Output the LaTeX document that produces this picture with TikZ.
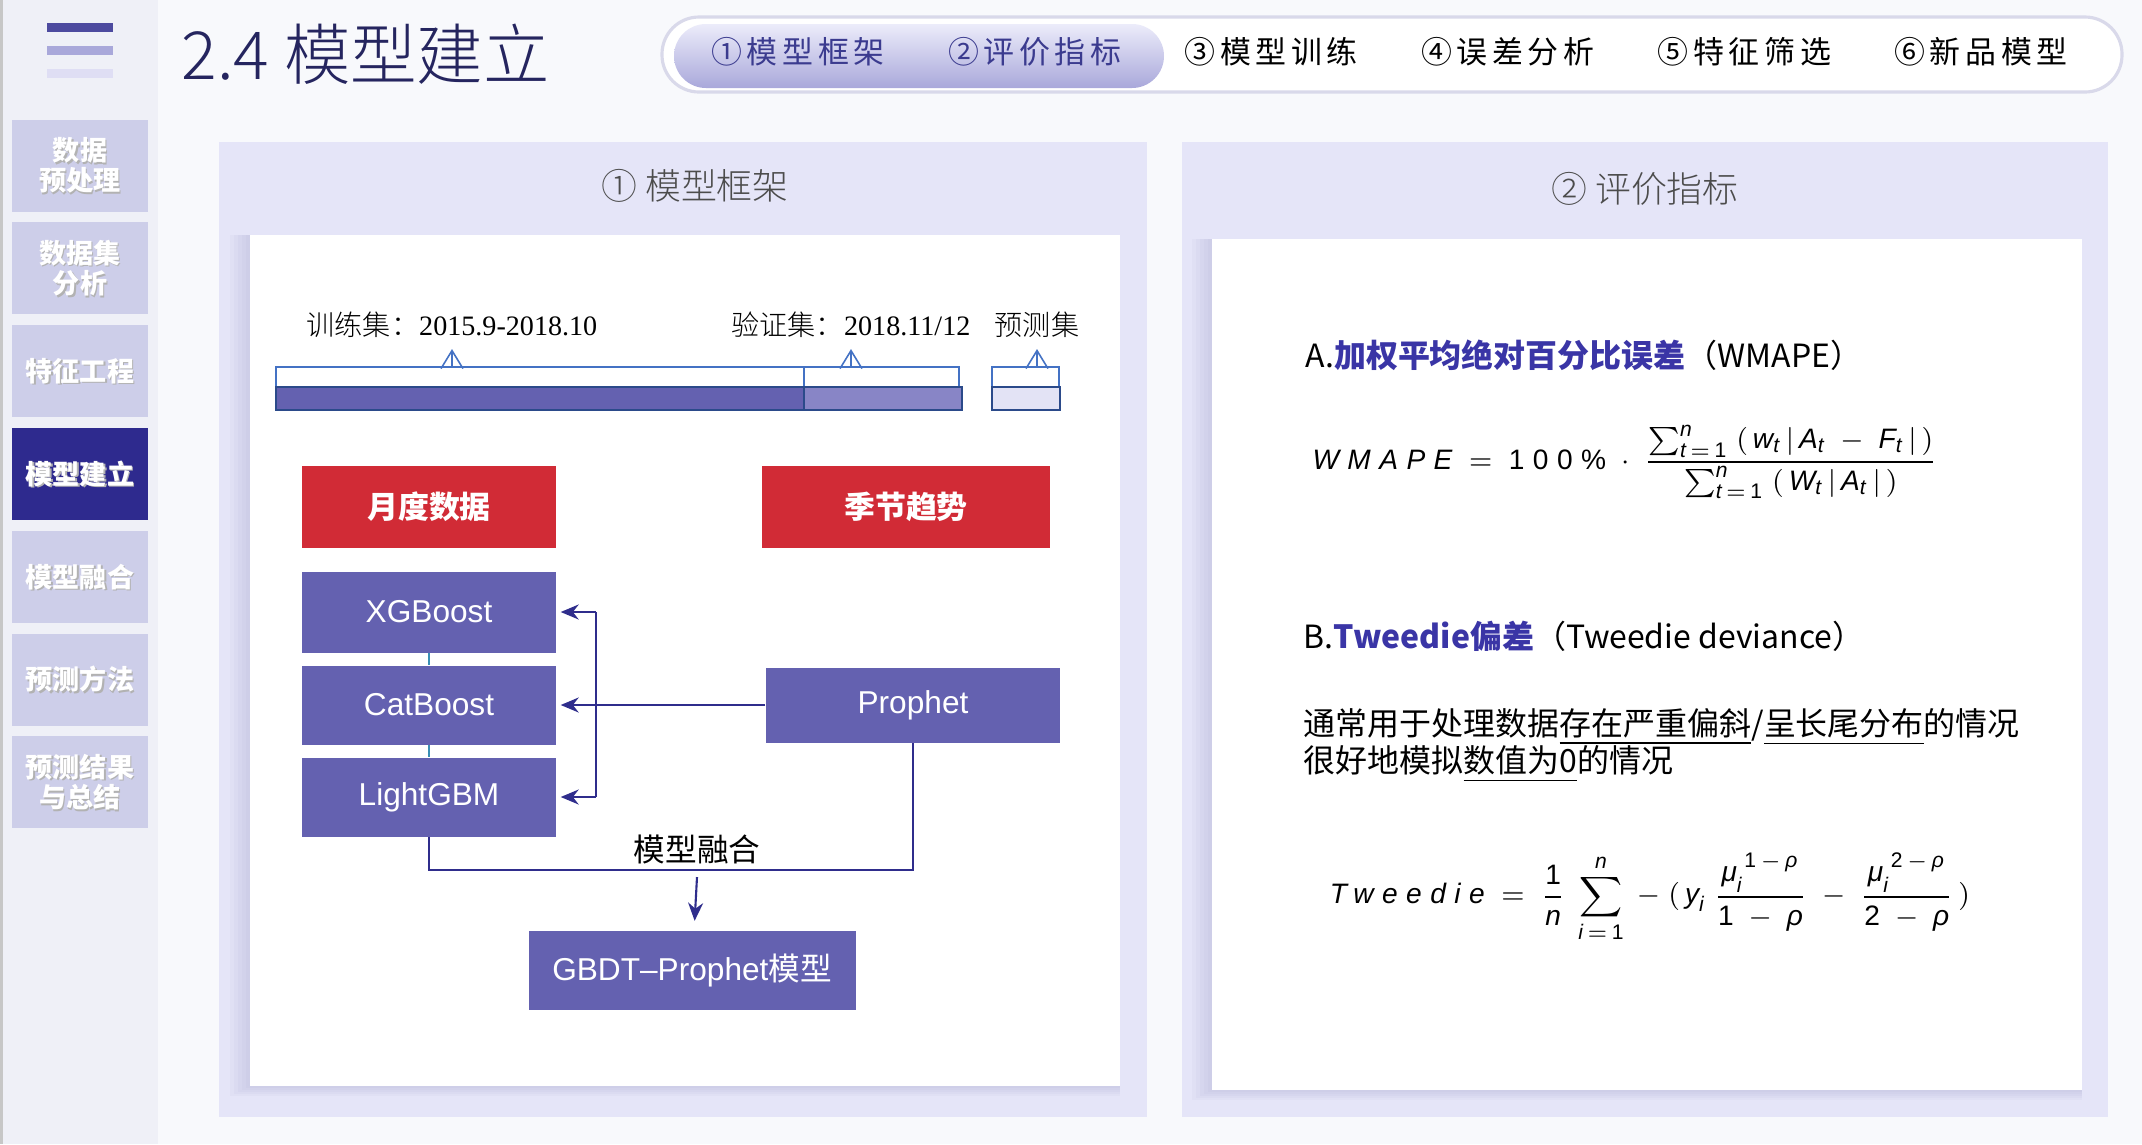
\documentclass[tikz,border=0pt]{standalone}
\usepackage{fontspec}
\usepackage{amsmath}
\setmainfont{Noto Sans CJK SC}
\newfontfamily\lightfont{Noto Sans CJK SC Light}
\newfontfamily\tabfont[LetterSpace=15]{Noto Sans CJK SC}
\newfontfamily\numfont{Liberation Serif}
\newfontfamily\latfont{Liberation Sans}
\newfontfamily\fmfont[LetterSpace=30]{Liberation Sans}
\usetikzlibrary{positioning,arrows.meta}

\definecolor{pagebg}{HTML}{F8F9FC}
\definecolor{sidebg}{HTML}{EFF0F7}
\definecolor{navbg}{HTML}{CDCEE9}
\definecolor{navon}{HTML}{2E2A8E}
\definecolor{titleblue}{HTML}{25255F}
\definecolor{tabrim}{HTML}{D9D9EA}
\definecolor{tabtop}{HTML}{ECECFA}
\definecolor{tabbot}{HTML}{A9A8DA}
\definecolor{tabon}{HTML}{3B3B8F}
\definecolor{panelbg}{HTML}{E5E5F8}
\definecolor{shadowc}{HTML}{7070A8}
\definecolor{boxpurple}{HTML}{6461B0}
\definecolor{boxlight}{HTML}{8885C6}
\definecolor{boxpale}{HTML}{E3E3F5}
\definecolor{boxred}{HTML}{D12B36}
\definecolor{flowblue}{HTML}{2F2D8C}
\definecolor{lineblue}{HTML}{4472C4}
\definecolor{barnavy}{HTML}{2B4A8A}
\definecolor{linkteal}{HTML}{3A8FB5}
\definecolor{accent}{HTML}{3A35A6}

\newcommand\mv[1]{\text{\fmfont\itshape #1}}
\newcommand\mr[1]{\text{\fmfont #1}}

\begin{document}
\begin{tikzpicture}[x=0.1mm,y=-0.1mm,
  navbtn/.style={fill=navbg,minimum width=13.6mm,minimum height=9.2mm,inner sep=0},
  navbtnon/.style={navbtn,fill=navon},
  navtext/.style={text=white,font=\bfseries\fontsize{7.7}{8.6}\selectfont,align=center},
  navshadow/.style={navtext,text=black!30},
  tablabel/.style={font=\tabfont\fontsize{8.8}{10}\selectfont},
  paneltitle/.style={text=black!70,font=\lightfont\fontsize{10.2}{12}\selectfont},
  setlabel/.style={font=\lightfont\fontsize{8}{10}\selectfont,inner sep=1pt},
  setframe/.style={draw=lineblue,line width=0.4pt},
  setbar/.style={draw=barnavy,line width=0.6pt},
  setarrow/.style={draw=lineblue,line width=0.45pt,-{Straight Barb[length=1.8mm,width=2.2mm]},shorten >=0.7mm},
  databox/.style={fill=boxred,text=white,minimum height=8.2mm,inner sep=0,font=\bfseries\fontsize{8.8}{10}\selectfont},
  modelbox/.style={fill=boxpurple,text=white,inner sep=0,font=\fontsize{9}{11}\selectfont},
  link/.style={draw=linkteal,line width=0.5pt},
  flow/.style={draw=flowblue,line width=0.6pt},
  flowarrow/.style={flow,-{Stealth[length=1.8mm,width=1.5mm]},shorten >=0.4mm},
  bodytext/.style={font=\fontsize{9.1}{10.6}\selectfont,inner sep=0},
  formula/.style={inner sep=0,font=\fontsize{8}{10}\selectfont}]
\useasboundingbox (0,0) rectangle (2142,1144);
\fill[pagebg] (0,0) rectangle (2142,1144);
\fill[sidebg] (0,0) rectangle (158,1144);
\fill[black!22] (0,0) rectangle (3,1144);
\fill[navon!85] (47,23) rectangle (113,32);
\fill[tabbot] (47,46) rectangle (113,55);
\fill[tabtop!80!tabbot] (47,69) rectangle (113,78);
\node[anchor=west,inner sep=0,text=titleblue,font=\lightfont\fontsize{18.9}{21}\selectfont] (pagetitle) at (181,54) {2.4 模型建立};

\draw[draw=tabrim,line width=0.9pt,fill=white,rounded corners=3.7mm] (662,17) rectangle (2122,92);
\shade[top color=tabtop,bottom color=tabbot,rounded corners=3.2mm] (674,24) rectangle (1164,88);
\foreach \lbl/\col [count=\i] in {①模型框架/tabon,②评价指标/tabon,③模型训练/black,④误差分析/black,⑤特征筛选/black,⑥新品模型/black}
  \node[tablabel,text=\col] (tab\i) at ({798+236.6*(\i-1)},52) {\lbl};

\foreach \lbl/\sty [count=\i] in {数据\\预处理/navbtn,数据集\\分析/navbtn,特征工程/navbtn,模型建立/navbtnon,模型融合/navbtn,预测方法/navbtn,预测结果\\与总结/navbtn}{
  \node[\sty] (nav\i) at (80,{165.5+102.8*(\i-1)}) {};
  \node[navshadow] at ([xshift=0.4pt,yshift=-0.4pt]nav\i) {\lbl};
  \node[navtext] at (nav\i) {\lbl};
}

\fill[panelbg] (219,142) rectangle (1147,1117);
\fill[panelbg] (1182,142) rectangle (2108,1117);
\foreach \k in {1,...,5}{
  \fill[shadowc,opacity=0.04] ({250-4*\k},235) rectangle (1120,{1086+2*\k});
  \fill[shadowc,opacity=0.04] ({1212-4*\k},239) rectangle (2082,{1090+2*\k});
}
\fill[white] (250,235) rectangle (1120,1086);
\fill[white] (1212,239) rectangle (2082,1090);
\node[paneltitle] (frametitle) at (695,186) {① 模型框架};
\node[paneltitle] (metrictitle) at (1645,189) {② 评价指标};

\coordinate (bartop) at (0,367);
\node[setlabel] (trainlbl) at (452,325) {训练集：{\numfont 2015.9-2018.10}};
\node[setlabel] (vallbl) at (851,325) {验证集：{\numfont 2018.11/12}};
\node[setlabel] (testlbl) at (1037,325) {预测集};
\draw[setframe] (276,367) rectangle (959,387);
\draw[setframe] (804,367) -- (804,387);
\draw[setframe] (992,367) rectangle (1059,387);
\draw[setbar,fill=boxpurple] (276,387) rectangle (804,410);
\draw[setbar,fill=boxlight] (804,387) rectangle (962,410);
\draw[setbar,fill=boxpale] (992,387) rectangle (1060,410);
\draw[setarrow] (trainlbl.south |- bartop) -- (trainlbl.south);
\draw[setarrow] (vallbl.south |- bartop) -- (vallbl.south);
\draw[setarrow] (testlbl.south |- bartop) -- (testlbl.south);

\node[databox,minimum width=25.4mm] (month) at (429,507) {月度数据};
\node[databox,minimum width=28.8mm] (season) at (906,507) {季节趋势};
\node[modelbox,minimum width=25.4mm,minimum height=8.1mm] (xgb) at (429,612) {\latfont XGBoost};
\node[modelbox,minimum width=25.4mm,minimum height=7.9mm] (cat) at (429,705) {\latfont CatBoost};
\node[modelbox,minimum width=25.4mm,minimum height=7.9mm] (lgbm) at (429,797) {\latfont LightGBM};
\node[modelbox,minimum width=29.4mm,minimum height=7.5mm] (prophet) at (913,705) {\latfont Prophet};
\node[modelbox,minimum width=32.7mm,minimum height=7.9mm] (gbdt) at (692,970) {{\latfont GBDT–Prophet}模型};
\draw[link] (xgb) -- (cat);
\draw[link] (cat) -- (lgbm);
\draw[flowarrow] (prophet) -- (cat);
\coordinate (rail) at (596,705);
\draw[flow] (rail |- xgb) -- (rail |- lgbm);
\draw[flowarrow] (rail |- xgb) -- (xgb);
\draw[flowarrow] (rail |- lgbm) -- (lgbm);
\coordinate (fuse) at (697,870);
\draw[flow] (lgbm) |- (fuse) -| (prophet);
\node[above,inner sep=1.5pt,font=\fontsize{9}{11}\selectfont] (fuselbl) at (fuse) {模型融合};
\draw[flowarrow,shorten >=0.9mm] ([yshift=-2pt]fuse) -- (gbdt);

\node[bodytext,anchor=west] (heada) at (1305,355) {A.{\color{accent}\bfseries 加权平均绝对百分比误差}（WMAPE）};
\node[formula] (wmape) at (1625,462) {$\mv{WMAPE}\;=\;\mr{100\%}\;\cdot\;\dfrac{\sum_{\mv{t}\,=\,\mr{1}}^{\mv{n}}\;(\,\mv{w}_{\mv{t}}\,|\,\mv{A}_{\mv{t}}\;-\;\mv{F}_{\mv{t}}\,|\,)}{\sum_{\mv{t}\,=\,\mr{1}}^{\mv{n}}\;(\,\mv{W}_{\mv{t}}\,|\,\mv{A}_{\mv{t}}\,|\,)}$};
\node[bodytext,anchor=west] (headb) at (1303,636) {B.{\color{accent}\bfseries Tweedie偏差}（Tweedie deviance）};
\node[bodytext,anchor=west] (desca) at (1303,727) {通常用于处理数据\underline{存在严重偏斜}/\underline{呈长尾分布}的情况};
\node[bodytext,anchor=west] (descb) at (1303,764) {很好地模拟\underline{数值为0}的情况};
\node[formula] (tweedie) at (1650,898) {$\displaystyle\mv{Tweedie}\;=\;\frac{\mr{1}}{\mv{n}}\;\sum_{\mv{i}\,=\,\mr{1}}^{\mv{n}}\;-\;(\,\mv{y}_{\mv{i}}\;\frac{\mv{μ}_{\mv{i}}^{\;\mr{1}\,-\,\mv{ρ}}}{\mr{1}\;-\;\mv{ρ}}\;-\;\frac{\mv{μ}_{\mv{i}}^{\;\mr{2}\,-\,\mv{ρ}}}{\mr{2}\;-\;\mv{ρ}}\,)$};
\end{tikzpicture}
\end{document}
